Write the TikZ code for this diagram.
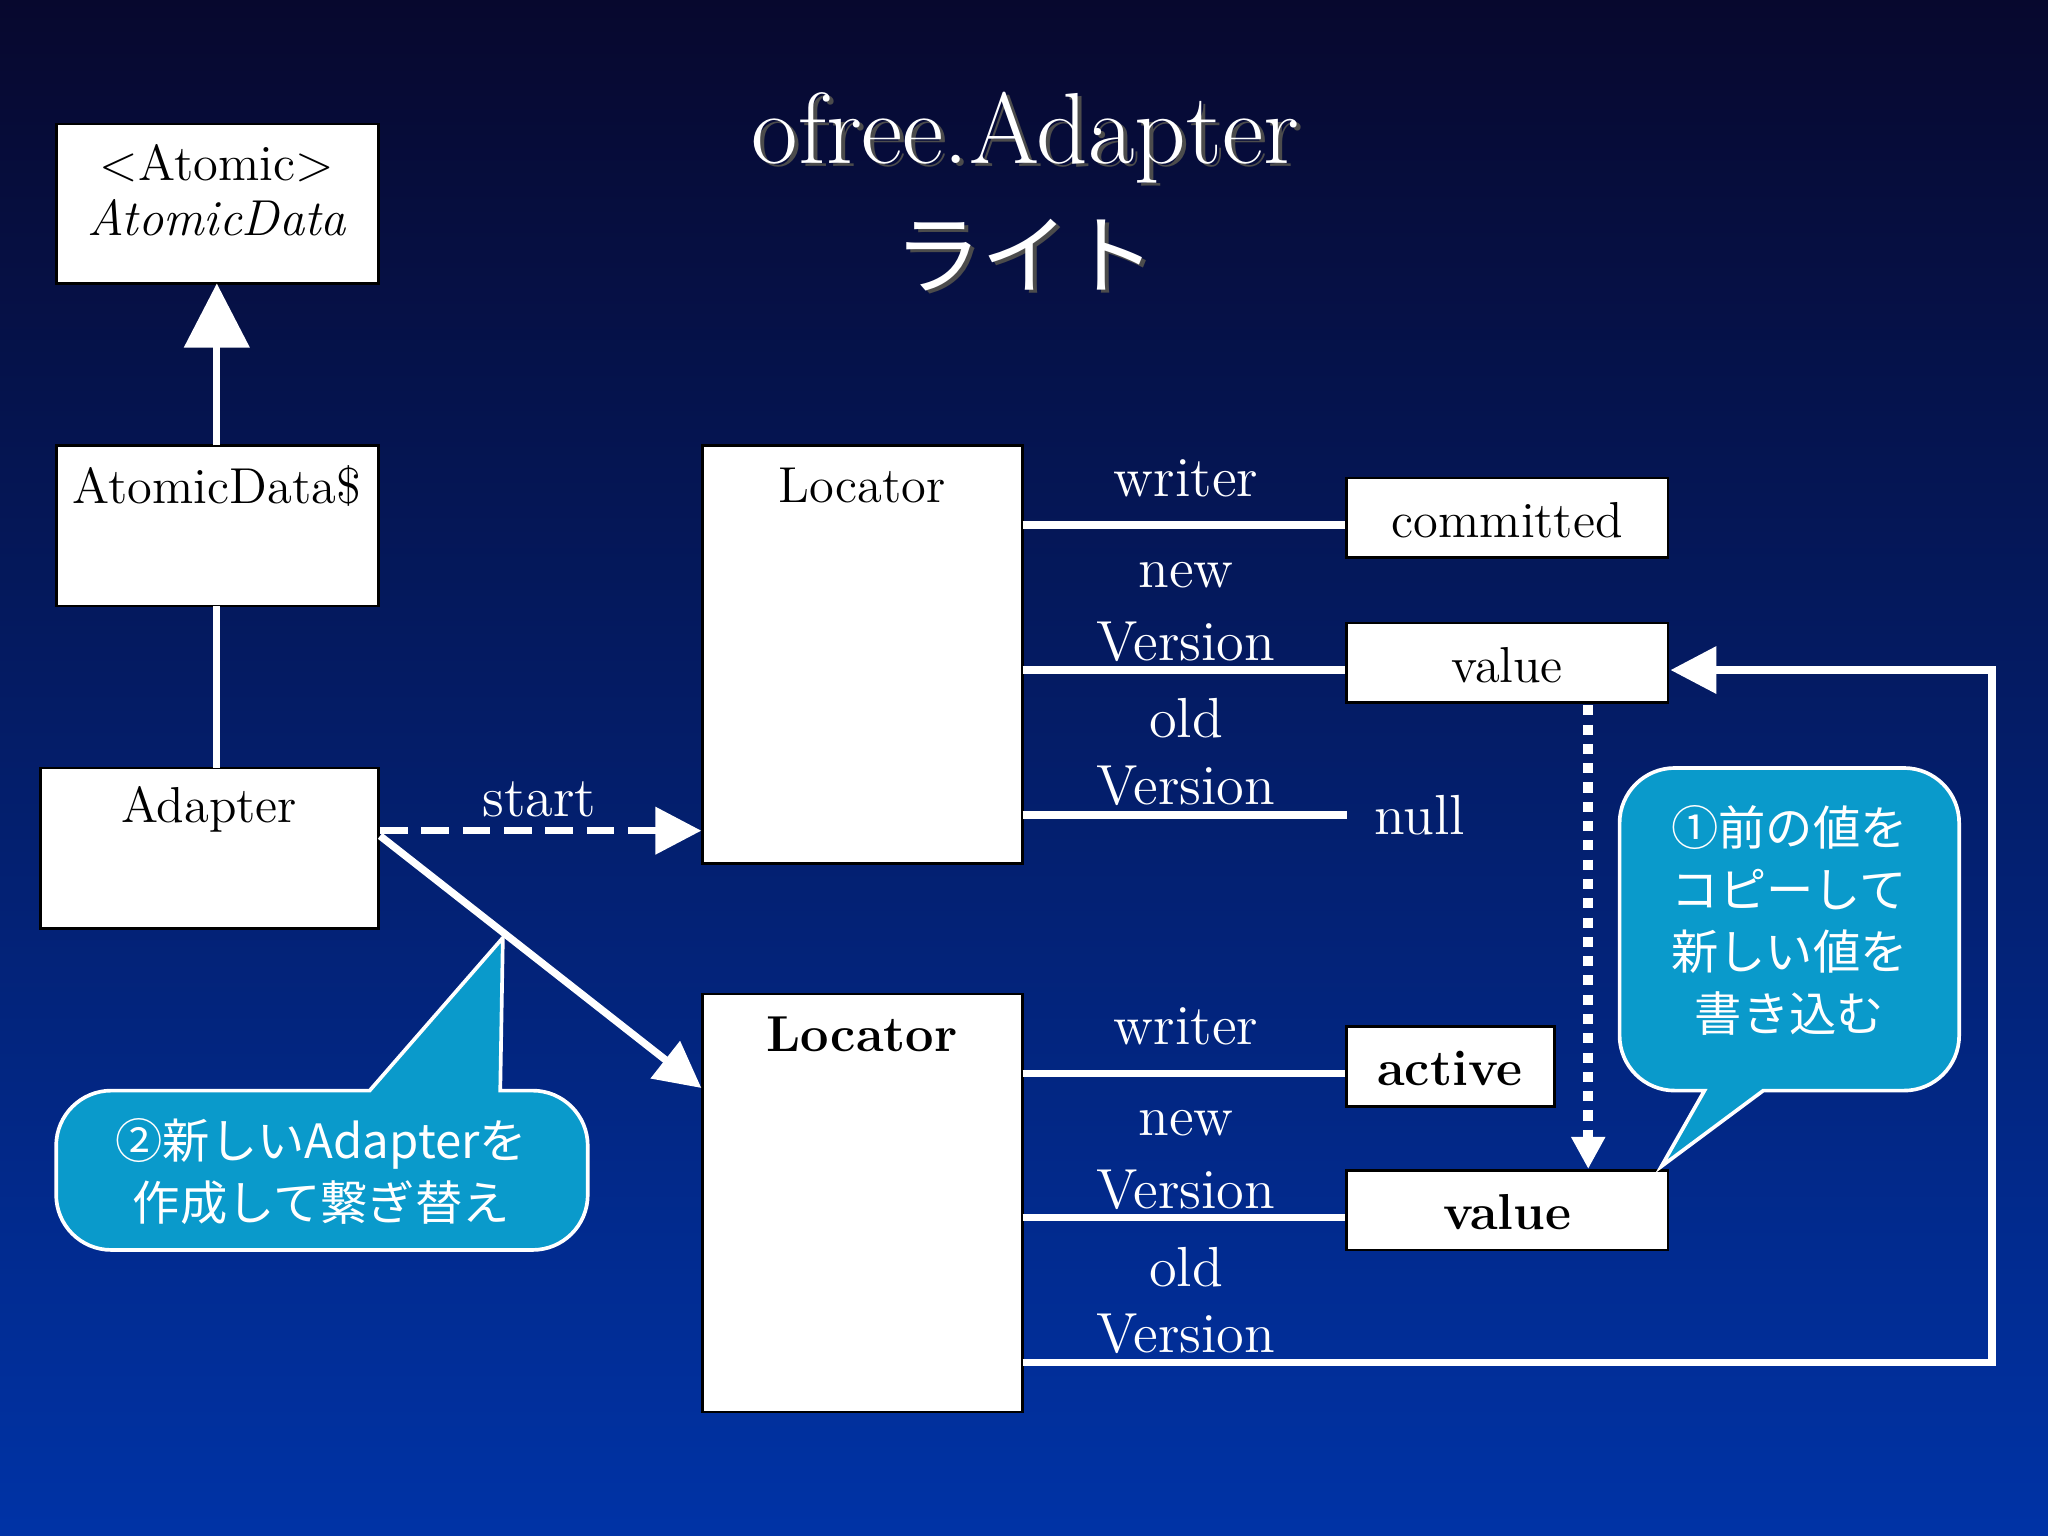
\documentclass[tikz,border=0pt]{standalone}
\usepackage{fontspec}
\newfontfamily\cjk{Noto Sans CJK JP}
\usetikzlibrary{arrows.meta}
\definecolor{bgtop}{HTML}{07082E}
\definecolor{bgbot}{HTML}{0033A6}
\definecolor{callout}{HTML}{0A9ACB}
\tikzset{
  wbox/.style={draw=black,fill=white,line width=0.6pt},
  wline/.style={draw=white,line width=1.6pt},
  lbl/.style={text=white,font=\fontsize{12.3}{13}\selectfont,inner sep=0pt},
  btxt/.style={text=black,font=\fontsize{11}{12}\selectfont,inner sep=0pt},
  ctxt/.style={text=white,font=\cjk\fontsize{10.3}{13.5}\selectfont,align=center,inner sep=0pt},
  bubble/.style={fill=callout,draw=white,line width=0.8pt}
}
\begin{document}
\begin{tikzpicture}[x=0.01cm,y=-0.01cm]
\useasboundingbox (0,0) rectangle (1568,1176);
\shade[top color=bgtop,bottom color=bgbot] (0,0) rectangle (1568,1176);
% title
\node[text=black!70,font=\fontsize{22}{22}\selectfont] at (788,108) {ofree.Adapter};
\node[text=white,font=\fontsize{22}{22}\selectfont] (title) at (785,105) {ofree.Adapter};
\node[text=black!70,font=\cjk\fontsize{19}{19}\selectfont] at (788,198) {ライト};
\node[text=white,font=\cjk\fontsize{19}{19}\selectfont] (title2) at (785,195) {ライト};
% left boxes
\draw[wbox] (43,95) rectangle (290,217);
\coordinate (ad) at (166,217);
\node[btxt] at (166,125) {<Atomic>};
\node[btxt] at (166,167) {\itshape AtomicData};
\draw[wbox] (43,341) rectangle (290,464);
\node[btxt] at (166,372) {AtomicData\$};
\coordinate (ads) at (166,341); \coordinate (adsb) at (166,464);
\draw[wbox] (31,588) rectangle (290,711);
\node[btxt] at (160,620) {Adapter};
\coordinate (adp) at (166,588);
\draw[wline,-{Triangle[width=14pt,length=14pt,fill=white]}] (ads) -- (ad);
\draw[wline] (adsb) -- (adp);
% Locators
\draw[wbox] (538,341) rectangle (783,661);
\node[btxt] (loc1) at (660,372) {Locator};
\draw[wbox] (538,761) rectangle (783,1081);
\node[btxt] (loc2) at (660,792) {\bfseries Locator};
% locator1 fields
\draw[wline] (783,402) -- (1031,402);
\draw[wline] (783,513) -- (1031,513);
\draw[wline] (783,624) -- (1031,624);
\node[lbl] at (908,366) {writer};
\node[lbl] at (908,440) {new};
\node[lbl] at (908,491) {Version};
\node[lbl] at (908,550) {old};
\node[lbl] at (908,602) {Version};
\draw[wbox] (1031,366) rectangle (1277,427);
\node[btxt] (comm) at (1154,398) {committed};
\draw[wbox] (1031,477) rectangle (1277,538);
\node[btxt] (val1) at (1154,509) {value};
\node[lbl] (null) at (1087,624) {null};
% locator2 fields
\draw[wline] (783,822) -- (1031,822);
\draw[wline] (783,932) -- (1031,932);
\node[lbl] at (908,786) {writer};
\node[lbl] at (908,860) {new};
\node[lbl] at (908,911) {Version};
\node[lbl] at (908,970) {old};
\node[lbl] at (908,1021) {Version};
\draw[wbox] (1031,786) rectangle (1190,847);
\node[btxt] (act) at (1110,818) {\bfseries active};
\draw[wbox] (1031,896) rectangle (1277,957);
\node[btxt] (val2) at (1154,928) {\bfseries value};
\draw[wline,-{Triangle[width=10pt,length=10pt,fill=white]}] (783,1043) -- (1525,1043) -- (1525,513) -- (1279,513);
% dotted copy arrow
\draw[draw=white,line width=2.2pt,dotted,-{Triangle[width=7pt,length=7pt,fill=white]}] (1216,540) -- (1216,895);
% adapter arrows
\draw[wline,dash pattern=on 6pt off 3pt,-{Triangle[width=10pt,length=10pt,fill=white]}] (291,636) -- (537,636);
\node[lbl] (start) at (413,612) {start};
\draw[wline,-{Triangle[width=10pt,length=10pt,fill=white]}] (291,640) -- (537,833);
% callout 1
\draw[bubble] (1305,835) -- (1272,893) -- (1350,835) [rounded corners=12pt] -- (1500,835) -- (1500,588) -- (1240,588) -- (1240,835) [sharp corners] -- cycle;
\node[ctxt] (c1) at (1370,705) {①前の値を\\コピーして\\新しい値を\\書き込む};
% callout 2
\draw[bubble] (383,835) -- (385,718) -- (283,835) [rounded corners=12pt] -- (43,835) -- (43,957) -- (450,957) -- (450,835) [sharp corners] -- cycle;
\node[ctxt] (c2) at (246,897) {②新しいAdapterを\\作成して繋ぎ替え};
\end{tikzpicture}
\end{document}
